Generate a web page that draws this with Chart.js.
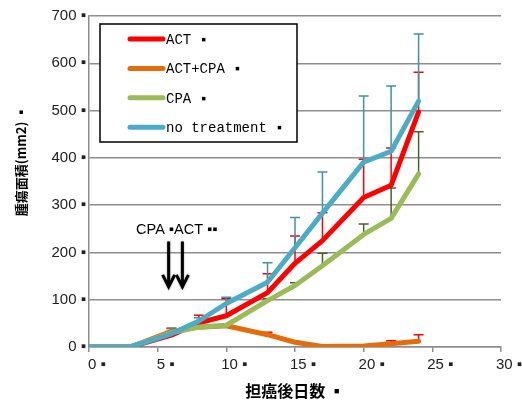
<!DOCTYPE html>
<html>
<head>
<meta charset="utf-8">
<script src="https://cdn.jsdelivr.net/npm/chart.js@4.4.0/dist/chart.umd.min.js"></script>
<style>
html, body { margin: 0; padding: 0; background: #fff; }
</style>
</head>
<body>
<canvas id="tumorChart" width="522" height="401"></canvas>
<script>
// ---------- data ----------
const days = [0, 3, 6, 8, 10, 13, 15, 17, 20, 22, 24];
const seriesNames = ['ACT ▪', 'ACT+CPA ▪', 'CPA ▪', 'no treatment ▪'];

const actValues       = [0, 0, 25, 51, 66, 115, 177, 225, 316, 342, 497];
const actCpaValues    = [0, 0, 33, 42, 45, 26, 10, 1, 2, 7, 12];
const cpaValues       = [0, 0, 30, 42, 46, 98, 130, 172, 238, 272, 366];
const noTreatValues   = [0, 0, 28, 55, 92, 137, 210, 283, 391, 414, 520];

// upper error (+SD)
const actErr     = [0, 0, 6, 16, 36, 40, 58, 59, 81, 79, 84];
const actCpaErr  = [0, 0, 6, 2, 2, 5, 2, 1, 1, 6, 14];
const cpaErr     = [0, 0, 3, 3, 3, 4, 6, 26, 22, 64, 89];
const noTreatErr = [0, 0, 12, 7, 13, 41, 64, 87, 140, 138, 142];

const xTicks = [0, 5, 10, 15, 20, 25, 30];
const yTicks = [0, 100, 200, 300, 400, 500, 600, 700];

// treatment annotation (data units)
const annotationText = 'CPA ▪ACT ▪▪';
const treatmentArrowDays = [5.8, 6.8];

const gridGray = '#8e8e8e';
const tickFont = { family: 'Liberation Sans', size: 15 };

// ---------- plugins ----------
const errorBars = {
    id: 'errorBars',
    beforeDatasetsDraw(chart) {
        const { ctx } = chart;
        const x = chart.scales.x, y = chart.scales.y;
        ctx.save();
        ctx.lineWidth = 1.5;
        chart.data.datasets.forEach(ds => {
            ctx.strokeStyle = ds.errorColor;
            ds.errorPlus.forEach((e, i) => {
                if (!e) return;
                const px = x.getPixelForValue(days[i]);
                const y0 = y.getPixelForValue(ds.data[i]);
                const y1 = y.getPixelForValue(ds.data[i] + e);
                ctx.beginPath();
                ctx.moveTo(px, y0);
                ctx.lineTo(px, y1);
                ctx.moveTo(px - 5, y1);
                ctx.lineTo(px + 5, y1);
                ctx.stroke();
            });
        });
        ctx.restore();
    }
};

const boxLegend = {
    id: 'boxLegend',
    afterDraw(chart) {
        const { ctx, chartArea } = chart;
        const left = chartArea.left + 11, top = chartArea.top + 8;
        ctx.save();
        ctx.fillStyle = '#fff';
        ctx.fillRect(left, top, 197, 118);
        ctx.strokeStyle = '#000';
        ctx.lineWidth = 1.5;
        ctx.strokeRect(left, top, 197, 118);
        ctx.font = '14px "Liberation Mono"';
        ctx.textBaseline = 'middle';
        chart.data.datasets.forEach((ds, i) => {
            const rowY = top + 15 + i * 29.4;
            ctx.strokeStyle = ds.borderColor;
            ctx.lineWidth = 5;
            ctx.lineCap = 'round';
            ctx.beginPath();
            ctx.moveTo(left + 30, rowY);
            ctx.lineTo(left + 63, rowY);
            ctx.stroke();
            ctx.fillStyle = '#000';
            ctx.fillText(ds.label, left + 66, rowY + 1);
        });
        ctx.restore();
    }
};

const annotations = {
    id: 'annotations',
    afterDraw(chart) {
        const { ctx } = chart;
        const x = chart.scales.x, y = chart.scales.y;
        ctx.save();
        // treatment label
        ctx.fillStyle = '#000';
        ctx.font = '14.5px "Liberation Sans"';
        ctx.textBaseline = 'alphabetic';
        ctx.fillText(annotationText, x.getPixelForValue(3.43), y.getPixelForValue(238));
        // arrows
        ctx.strokeStyle = '#000';
        ctx.lineWidth = 3;
        ctx.shadowColor = 'rgba(0,0,0,0.4)';
        ctx.shadowBlur = 2;
        treatmentArrowDays.forEach(d => {
            const px = x.getPixelForValue(d);
            const yTop = y.getPixelForValue(223);
            const yBot = y.getPixelForValue(127);
            ctx.beginPath();
            ctx.moveTo(px, yTop);
            ctx.lineTo(px, yBot);
            ctx.moveTo(px - 6, yBot - 12);
            ctx.lineTo(px, yBot);
            ctx.lineTo(px + 6, yBot - 12);
            ctx.stroke();
        });
        ctx.shadowBlur = 0;
        // y axis title
        ctx.font = 'bold 13px "Noto Sans CJK JP"';
        ctx.textAlign = 'center';
        ctx.textBaseline = 'middle';
        ctx.translate(21, 161);
        ctx.rotate(-Math.PI / 2);
        ctx.fillText('腫瘍面積(mm2) ▪', 0, 0);
        ctx.restore();
    }
};

// ---------- chart ----------
const tumorChart = document.getElementById('tumorChart');

new Chart(tumorChart, {
    type: 'line',
    data: {
        labels: days,
        datasets: [{
            label: seriesNames[0],
            data: actValues,
            errorPlus: actErr,
            errorColor: '#ff0000',
            borderColor: '#ff0000',
            order: 3
        }, {
            label: seriesNames[1],
            data: actCpaValues,
            errorPlus: actCpaErr,
            errorColor: '#ff0000',
            borderColor: '#e46c0a',
            order: 2
        }, {
            label: seriesNames[2],
            data: cpaValues,
            errorPlus: cpaErr,
            errorColor: '#4f6228',
            borderColor: '#9bbb59',
            order: 1
        }, {
            label: seriesNames[3],
            data: noTreatValues,
            errorPlus: noTreatErr,
            errorColor: '#3f93a8',
            borderColor: '#4bacc6',
            order: 0
        }]
    },
    options: {
        responsive: false,
        animation: false,
        layout: { padding: { left: 0, top: 16, right: 21, bottom: 0 } },
        elements: {
            line: { borderWidth: 5, tension: 0, fill: false, borderJoinStyle: 'round', borderCapStyle: 'round' },
            point: { radius: 0 }
        },
        plugins: {
            legend: { display: false },
            tooltip: { enabled: false }
        },
        scales: {
            x: {
                type: 'linear',
                min: 0,
                max: 30,
                afterBuildTicks: s => { s.ticks = xTicks.map(v => ({ value: v })); },
                afterFit: s => { s.height = 54; },
                grid: { drawOnChartArea: false, tickLength: 5, color: gridGray, lineWidth: 1.5 },
                border: { color: gridGray, width: 1.5 },
                ticks: {
                    callback: v => v + ' ▪',
                    padding: 4,
                    labelOffset: 8,
                    maxRotation: 0,
                    autoSkip: false,
                    color: '#222',
                    font: tickFont
                },
                title: {
                    display: true,
                    text: '担癌後日数 ▪',
                    color: '#000',
                    font: { family: 'Noto Sans CJK JP', size: 16, weight: 'bold' },
                    padding: 0
                }
            },
            y: {
                min: 0,
                max: 700,
                afterBuildTicks: s => { s.ticks = yTicks.map(v => ({ value: v })); },
                afterFit: s => { s.width = 89; },
                grid: { drawTicks: false, color: gridGray, lineWidth: 1.5 },
                border: { color: gridGray, width: 1.5 },
                ticks: {
                    callback: v => v + ' ▪',
                    padding: 3,
                    color: '#222',
                    font: tickFont
                }
            }
        }
    },
    plugins: [errorBars, boxLegend, annotations]
});
</script>
</body>
</html>
